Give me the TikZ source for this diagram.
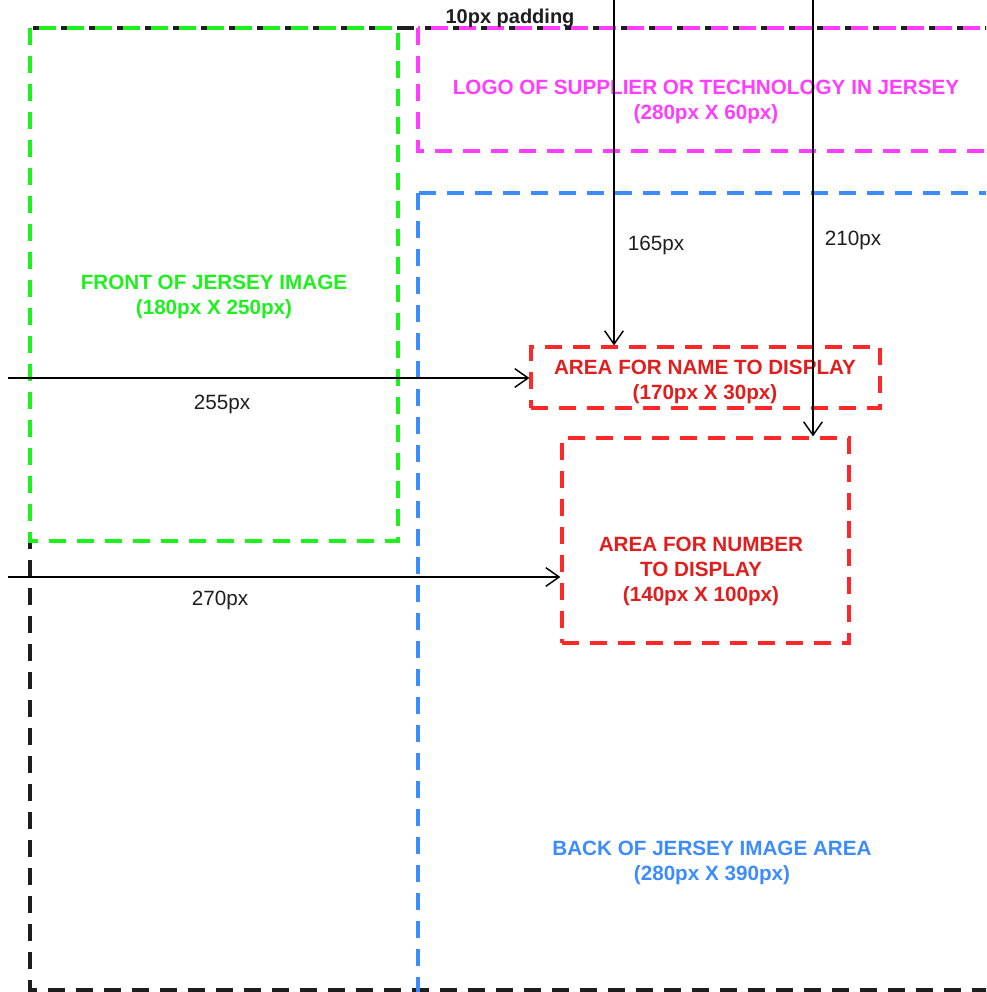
\documentclass[tikz,border=0pt]{standalone}
\usepackage{fontspec}
\setmainfont{Liberation Sans}
\usetikzlibrary{arrows.meta}
\definecolor{cgreen}{RGB}{30,240,30}
\definecolor{cmag}{RGB}{255,60,255}
\definecolor{cblue}{RGB}{60,140,255}
\definecolor{cred}{RGB}{255,40,40}
\definecolor{credtxt}{RGB}{225,30,30}
\definecolor{cblack}{RGB}{30,30,30}
\tikzset{
  dbox/.style={line width=2.4pt, dash pattern=on 13pt off 8pt},
  lbl/.style={font=\bfseries\fontsize{15.5}{18.75}\selectfont, align=center, inner sep=0pt},
  dim/.style={font=\fontsize{15.5}{18}\selectfont, text=cblack, inner sep=0pt},
  dimarrow/.style={draw=black, line width=1.3pt, -{Straight Barb[length=10pt,width=14pt,line width=1.1pt]}},
}
\begin{document}
\begin{tikzpicture}[x=0.75pt,y=-0.75pt]
\useasboundingbox (0,0) rectangle (986,992);
\clip (0,0) rectangle (986,992);
% outer black area
\draw[dbox, draw=cblack] (30,28) rectangle (1010,990);
% front of jersey
\draw[dbox, draw=cgreen] (30,28) rectangle (398,541);
\node[lbl, text=cgreen] (front) at (214,297) {FRONT OF JERSEY IMAGE\\(180px X 250px)};
% logo area
\draw[dbox, draw=cmag] (418,28) rectangle (1010,151);
\node[lbl, text=cmag] (logo) at (706,102) {LOGO OF SUPPLIER OR TECHNOLOGY IN JERSEY\\(280px X 60px)};
% back of jersey
\draw[dbox, draw=cblue] (418,193) rectangle (1010,1010);
\node[lbl, text=cblue] (back) at (712,863) {BACK OF JERSEY IMAGE AREA\\(280px X 390px)};
% name area
\node[dbox, draw=cred, minimum width=349*0.75pt, minimum height=61*0.75pt] (name) at (705.5,377.5) {};
\node[lbl, text=credtxt] (nametxt) at (705,382) {AREA FOR NAME TO DISPLAY\\(170px X 30px)};
% number area
\node[dbox, draw=cred, minimum width=287*0.75pt, minimum height=205*0.75pt] (num) at (705.5,540.5) {};
\node[lbl, text=credtxt] (numtxt) at (701,571.5) {AREA FOR NUMBER\\TO DISPLAY\\(140px X 100px)};
% padding label
\node[font=\bfseries\fontsize{15}{17}\selectfont, text=cblack, inner sep=0pt] (pad) at (510,18) {10px padding};
% dimension arrows
\coordinate (h1) at (8,378);
\coordinate (h2) at (8,577);
\coordinate (v1) at (614,0);
\coordinate (v2) at (813,0);
\draw[dimarrow] (h1) -- (name.west |- h1);
\draw[dimarrow] (h2) -- (num.west |- h2);
\draw[dimarrow] (v1) -- (v1 |- name.north);
\draw[dimarrow] (v2) -- (v2 |- num.north);
\node[dim] (d255) at (222,404) {255px};
\node[dim] (d270) at (220,600) {270px};
\node[dim] (d165) at (656,245) {165px};
\node[dim] (d210) at (853,240) {210px};
\end{tikzpicture}
\end{document}
